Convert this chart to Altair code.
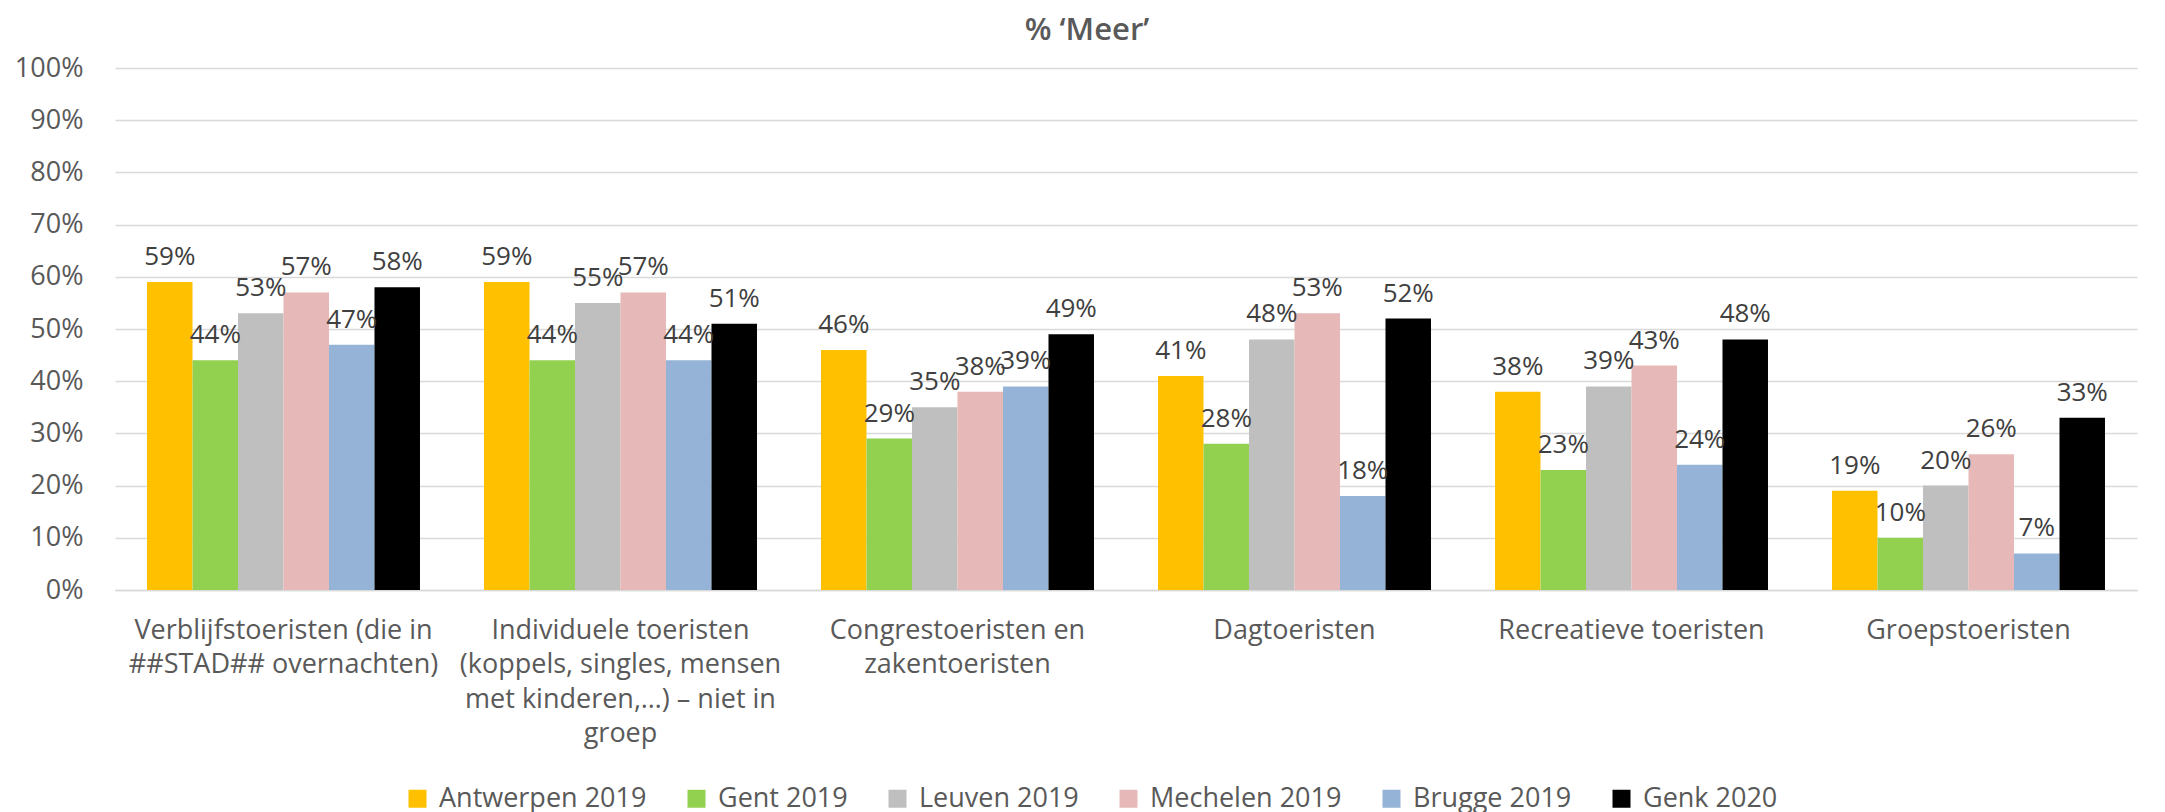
import altair as alt
import pandas as pd

categories = [
    "Verblijfstoeristen (die in|##STAD## overnachten)",
    "Individuele toeristen|(koppels, singles, mensen|met kinderen,…) – niet in|groep",
    "Congrestoeristen en|zakentoeristen",
    "Dagtoeristen",
    "Recreatieve toeristen",
    "Groepstoeristen",
]
series = ["Antwerpen 2019", "Gent 2019", "Leuven 2019", "Mechelen 2019", "Brugge 2019", "Genk 2020"]
colors = ["#FFC000", "#92D050", "#BFBFBF", "#E6B9B8", "#95B3D7", "#000000"]

antwerpen = [59, 59, 46, 41, 38, 19]
gent = [44, 44, 29, 28, 23, 10]
leuven = [53, 55, 35, 48, 39, 20]
mechelen = [57, 57, 38, 53, 43, 26]
brugge = [47, 44, 39, 18, 24, 7]
genk = [58, 51, 49, 52, 48, 33]

values = [antwerpen, gent, leuven, mechelen, brugge, genk]
rows = []
for s, vals in zip(series, values):
    for c, v in zip(categories, vals):
        rows.append({"cat": c, "series": s, "value": v, "label": f"{v}%"})
df = pd.DataFrame(rows)

FONT = "Open Sans"
GREY = "#595959"

x = alt.X(
    "cat:N",
    sort=categories,
    scale=alt.Scale(paddingInner=0.19, paddingOuter=0.095),
    axis=alt.Axis(
        title=None,
        labelAngle=0,
        labelExpr="split(datum.label, '|')",
        labelFontSize=27,
        labelFont=FONT,
        labelColor=GREY,
        labelLineHeight=34.5,
        labelPadding=27,
        labelBaseline="top",
        ticks=False,
        domainColor="#D9D9D9",
        domainWidth=1.5,
        grid=False,
        labelLimit=600,
    ),
)
xo = alt.XOffset("series:N", sort=series, scale=alt.Scale(paddingInner=0, paddingOuter=0))
y = alt.Y(
    "value:Q",
    scale=alt.Scale(domain=[0, 100]),
    axis=alt.Axis(
        title=None,
        values=[0, 10, 20, 30, 40, 50, 60, 70, 80, 90, 100],
        labelExpr="datum.value + '%'",
        labelFontSize=27,
        labelFont=FONT,
        labelColor=GREY,
        labelPadding=32,
        ticks=False,
        domain=False,
        gridColor="#D9D9D9",
        gridWidth=1.5,
    ),
)
color = alt.Color(
    "series:N",
    sort=series,
    scale=alt.Scale(domain=series, range=colors),
    legend=alt.Legend(
        title=None,
        orient="none",
        direction="horizontal",
        columns=6,
        legendX=289,
        legendY=717,
        symbolType="square",
        symbolSize=324,
        symbolStrokeWidth=0,
        labelFontSize=27,
        labelFont=FONT,
        labelColor=GREY,
        labelOffset=8,
        columnPadding=36,
        labelLimit=400,
    ),
)

bars = alt.Chart(df).mark_bar().encode(x=x, xOffset=xo, y=y, color=color)
text = alt.Chart(df).mark_text(
    baseline="bottom", dy=-12, fontSize=26, font=FONT, color="#404040"
).encode(x=x, xOffset=xo, y=y, text="label:N")

chart = (
    alt.layer(bars, text)
    .properties(
        width=2022,
        height=522,
        autosize=alt.AutoSizeParams(type="none"),
        padding={"left": 107, "top": 60, "right": 20, "bottom": 240},
        title=alt.TitleParams(
            "% ‘Meer’",
            fontSize=31,
            font=FONT,
            fontWeight=600,
            color=GREY,
            anchor="middle",
            offset=7,
            dx=-39,
        ),
    )
    .configure_view(stroke=None)
)

chart.save("out.html", embed_options={"renderer": "svg", "actions": False})
